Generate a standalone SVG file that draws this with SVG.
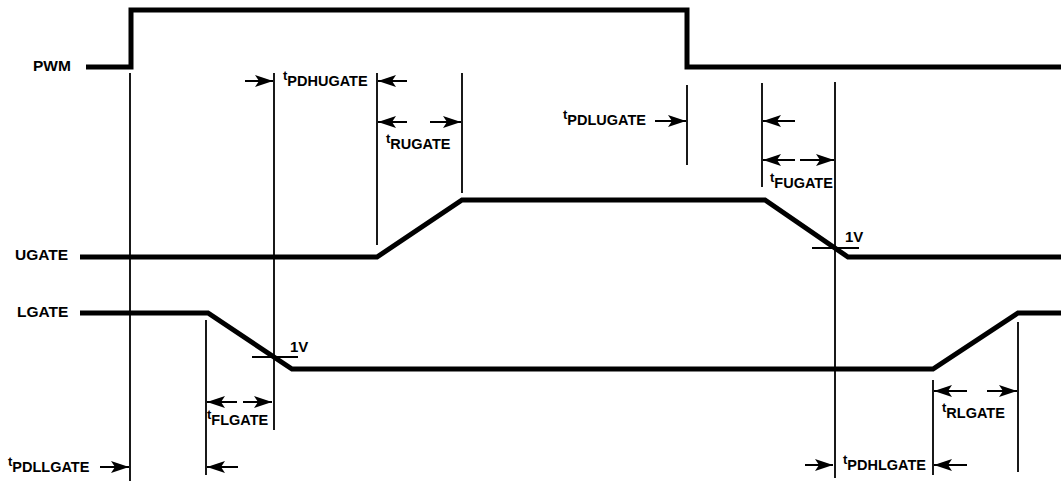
<svg xmlns="http://www.w3.org/2000/svg" width="1061" height="481" viewBox="0 0 1061 481">
<style>
.wave{fill:none;stroke:#000;stroke-width:5;stroke-linejoin:miter}
.thin{fill:none;stroke:#000;stroke-width:1.8}
.arr{fill:none;stroke:#000;stroke-width:2;marker-end:url(#ah)}
.lbl{font-family:"Liberation Sans",Arial,sans-serif;font-weight:bold;font-size:15.5px;fill:#000}
.t{font-family:"Liberation Sans",Arial,sans-serif;font-weight:bold;font-size:13px;fill:#000}
.sub{font-size:14.5px}
.v{font-family:"Liberation Sans",Arial,sans-serif;font-weight:bold;font-size:15px;fill:#000}
</style>
<defs>
<marker id="ah" markerUnits="userSpaceOnUse" markerWidth="20" markerHeight="14" refX="18" refY="6" orient="auto">
<path d="M0,0 L18,6 L0,12 L4,6 z" fill="#000"/>
</marker>
</defs>
<rect width="1061" height="481" fill="#fff"/>
<g id="PWM">
<text class="lbl" x="33" y="71">PWM</text>
<path class="wave" d="M86,67 H131 V10 H687 V67 H1061"/>
</g>
<g id="UGATE">
<text class="lbl" x="15" y="260">UGATE</text>
<path class="wave" d="M80,257 H377 L462,200 H765 L848,257 H1061"/>
</g>
<g id="LGATE">
<text class="lbl" x="17" y="317">LGATE</text>
<path class="wave" d="M80,313 H208 L292,369 H933 L1018,313 H1061"/>
</g>
<g id="connectors">
<line class="thin" x1="130" y1="73" x2="130" y2="481"/>
<line class="thin" x1="274" y1="73" x2="274" y2="430"/>
<line class="thin" x1="377" y1="73" x2="377" y2="245"/>
<line class="thin" x1="462" y1="73" x2="462" y2="193"/>
<line class="thin" x1="687" y1="85" x2="687" y2="165"/>
<line class="thin" x1="762" y1="83" x2="762" y2="187"/>
<line class="thin" x1="835" y1="82" x2="835" y2="478"/>
<line class="thin" x1="206" y1="320" x2="206" y2="475"/>
<line class="thin" x1="933" y1="380" x2="933" y2="475"/>
<line class="thin" x1="1018" y1="322" x2="1018" y2="472"/>
<line class="thin" x1="812" y1="248" x2="859" y2="248"/>
<line class="thin" x1="252" y1="357" x2="298" y2="357"/>
<path class="arr" d="M245,81 H273"/>
<path class="arr" d="M407,81 H378"/>
<path class="arr" d="M407,122 H378"/>
<path class="arr" d="M430,122 H461"/>
<path class="arr" d="M655,121 H686"/>
<path class="arr" d="M795,121 H763"/>
<path class="arr" d="M795,160 H763"/>
<path class="arr" d="M800,160 H834"/>
<path class="arr" d="M237,402 H207"/>
<path class="arr" d="M243,402 H272"/>
<path class="arr" d="M100,467 H129"/>
<path class="arr" d="M238,467 H207"/>
<path class="arr" d="M967,391 H934"/>
<path class="arr" d="M987,391 H1017"/>
<path class="arr" d="M805,465 H833"/>
<path class="arr" d="M967,465 H934"/>
</g>
<g id="labels">
<text class="t" x="283" y="80">t<tspan class="sub" dy="6">PDHUGATE</tspan></text>
<text class="t" x="386" y="143">t<tspan class="sub" dy="6">RUGATE</tspan></text>
<text class="t" x="563" y="119">t<tspan class="sub" dy="6">PDLUGATE</tspan></text>
<text class="t" x="770" y="182">t<tspan class="sub" dy="6">FUGATE</tspan></text>
<text class="t" x="207" y="419">t<tspan class="sub" dy="6">FLGATE</tspan></text>
<text class="t" x="8" y="466">t<tspan class="sub" dy="6">PDLLGATE</tspan></text>
<text class="t" x="942" y="412">t<tspan class="sub" dy="6">RLGATE</tspan></text>
<text class="t" x="843" y="464">t<tspan class="sub" dy="6">PDHLGATE</tspan></text>
<text class="v" x="845" y="242">1V</text>
<text class="v" x="290" y="352">1V</text>
</g>
</svg>
